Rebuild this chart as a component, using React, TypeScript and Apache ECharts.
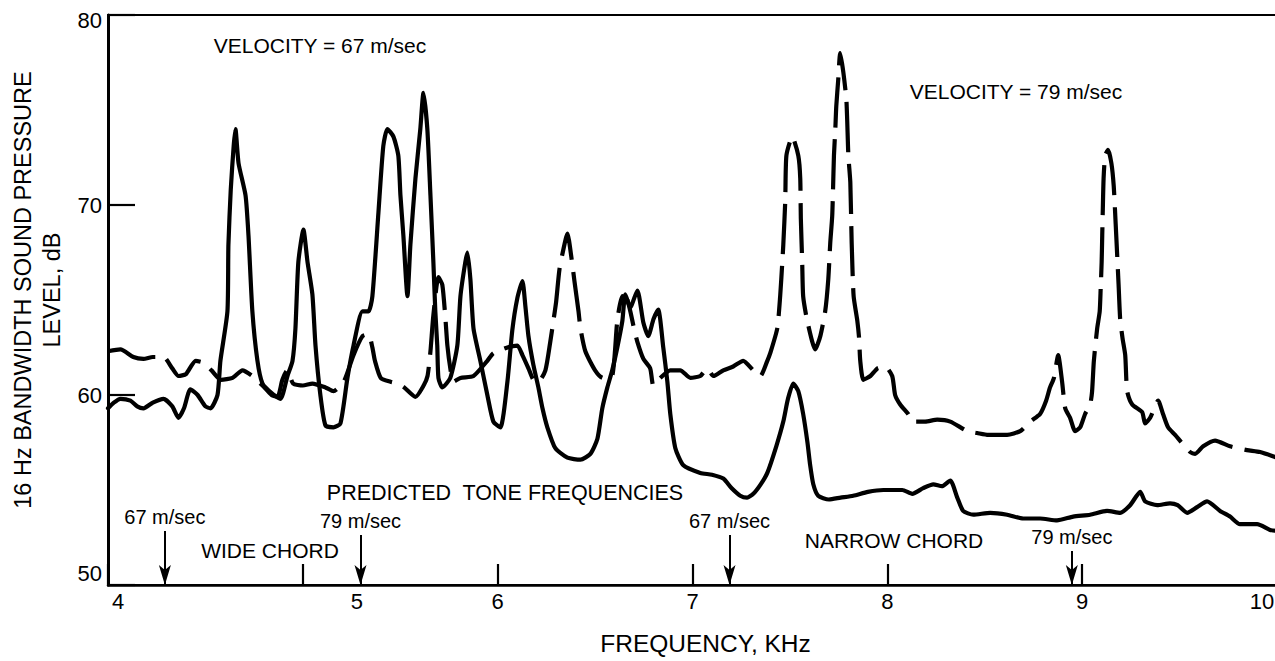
import React, { useEffect, useRef } from 'react';
import * as echarts from 'echarts';

// Frequency (kHz) vs 16 Hz bandwidth SPL (dB)
const solidCurve: [number, number][] = [
  [4.00, 59.3], [4.03, 59.6], [4.064, 59.8], [4.115, 59.7], [4.15, 59.4], [4.182, 59.3], [4.23, 59.6], [4.285, 59.8],
  [4.33, 59.4], [4.362, 58.8], [4.39, 59.3], [4.423, 60.3], [4.46, 60.0], [4.50, 59.4], [4.526, 59.3], [4.562, 60.0],
  [4.577, 61.8], [4.613, 64.4], [4.618, 67.9], [4.63, 70.8], [4.645, 73.1], [4.654, 74.0], [4.670, 72.2], [4.706, 70.5],
  [4.721, 68.4], [4.741, 64.4], [4.767, 61.8], [4.793, 60.6], [4.84, 60.1], [4.885, 59.8], [4.921, 61.0], [4.947, 61.8],
  [4.962, 63.5], [4.977, 67.0], [5.003, 68.7], [5.024, 67.0], [5.049, 65.3], [5.065, 62.6], [5.090, 60.0], [5.116, 58.4],
  [5.157, 58.3], [5.193, 58.5], [5.229, 60.9], [5.260, 62.6], [5.306, 64.4], [5.337, 64.4], [5.357, 65.2], [5.388, 69.6],
  [5.413, 73.1], [5.434, 74.0], [5.465, 73.6], [5.490, 72.6], [5.501, 70.5], [5.516, 68.4], [5.537, 65.2], [5.552, 67.9],
  [5.578, 71.4], [5.603, 74.0], [5.619, 75.9], [5.639, 74.0], [5.655, 70.5], [5.670, 67.0], [5.680, 64.4], [5.690, 62.6],
  [5.696, 60.9], [5.716, 60.4], [5.757, 60.9], [5.793, 62.6], [5.809, 65.2], [5.834, 67.0], [5.845, 67.5], [5.860, 66.1],
  [5.876, 63.5], [5.911, 61.8], [5.947, 60.0], [5.978, 58.6], [6.014, 58.3], [6.050, 60.7], [6.075, 63.4], [6.101, 65.1],
  [6.127, 66.0], [6.142, 64.7], [6.158, 63.1], [6.183, 61.6], [6.209, 60.4], [6.230, 59.3], [6.255, 58.3], [6.296, 57.2],
  [6.358, 56.7], [6.425, 56.6], [6.476, 56.9], [6.512, 57.7], [6.537, 59.3], [6.563, 60.4], [6.588, 61.3], [6.614, 62.5],
  [6.640, 63.9], [6.655, 65.3], [6.680, 64.6], [6.717, 65.5], [6.748, 63.8], [6.773, 63.1], [6.800, 64.0], [6.824, 64.5],
  [6.850, 62.5], [6.871, 60.7], [6.886, 59.0], [6.912, 57.2], [6.953, 56.3], [7.040, 55.9], [7.100, 55.8], [7.158, 55.6],
  [7.200, 55.1], [7.245, 54.7], [7.280, 54.6], [7.312, 54.8], [7.350, 55.3], [7.384, 55.9], [7.430, 57.3], [7.466, 58.6],
  [7.490, 59.8], [7.517, 60.6], [7.543, 60.2], [7.568, 59.0], [7.590, 57.5], [7.604, 56.3], [7.620, 55.3], [7.645, 54.7],
  [7.700, 54.5], [7.760, 54.6], [7.825, 54.7], [7.900, 54.9], [7.980, 55.0], [8.015, 55.0], [8.077, 55.0], [8.128, 54.8],
  [8.184, 55.1], [8.236, 55.3], [8.280, 55.2], [8.323, 55.5], [8.359, 54.6], [8.389, 53.9], [8.441, 53.7], [8.528, 53.8],
  [8.615, 53.7], [8.697, 53.5], [8.784, 53.5], [8.871, 53.4], [8.954, 53.6], [9.041, 53.7], [9.128, 53.9], [9.195, 53.8],
  [9.246, 54.2], [9.298, 54.9], [9.323, 54.4], [9.385, 54.2], [9.451, 54.3], [9.490, 54.2], [9.539, 53.8], [9.590, 54.1],
  [9.641, 54.4], [9.708, 53.9], [9.759, 53.6], [9.810, 53.2], [9.898, 53.2], [9.964, 52.9], [10.0, 52.85]
];

const dashedCurve: [number, number][] = [
  [4.00, 62.3], [4.064, 62.4], [4.13, 62.0], [4.182, 61.9], [4.23, 62.0], [4.285, 62.0], [4.33, 61.4], [4.362, 61.0],
  [4.40, 61.1], [4.45, 61.8], [4.49, 61.7], [4.531, 61.3], [4.58, 60.8], [4.639, 60.9], [4.69, 61.3], [4.741, 61.0],
  [4.793, 60.5], [4.84, 60.0], [4.87, 59.9], [4.895, 60.8], [4.92, 61.3], [4.95, 60.6], [5.00, 60.5], [5.049, 60.6],
  [5.116, 60.4], [5.157, 60.2], [5.21, 60.7], [5.260, 62.1], [5.306, 63.1], [5.337, 63.2], [5.357, 62.5], [5.37, 61.8],
  [5.40, 60.9], [5.45, 60.7], [5.49, 60.6], [5.52, 60.4], [5.578, 59.9], [5.62, 60.5], [5.64, 61.0], [5.655, 62.3],
  [5.67, 64.2], [5.696, 66.2], [5.716, 65.8], [5.732, 64.0], [5.742, 62.6], [5.757, 61.4], [5.773, 60.7], [5.809, 60.9],
  [5.876, 61.0], [5.947, 61.8], [5.978, 62.2], [6.05, 62.5], [6.101, 62.6], [6.127, 62.1], [6.158, 61.4], [6.183, 60.8],
  [6.209, 60.7], [6.245, 61.3], [6.27, 62.8], [6.286, 63.9], [6.30, 64.9], [6.317, 66.6], [6.338, 67.7], [6.358, 68.5],
  [6.379, 67.2], [6.394, 66.0], [6.415, 64.4], [6.425, 63.5], [6.45, 62.3], [6.50, 61.3], [6.54, 60.9], [6.588, 61.0],
  [6.614, 63.9], [6.640, 65.2], [6.666, 65.0], [6.70, 63.5], [6.717, 62.8], [6.748, 61.9], [6.783, 61.4], [6.799, 60.5],
  [6.835, 60.9], [6.886, 61.3], [6.937, 61.3], [6.989, 60.9], [7.040, 61.0], [7.076, 61.4], [7.107, 61.0], [7.158, 61.3],
  [7.209, 61.5], [7.260, 61.8], [7.312, 61.3], [7.348, 61.0], [7.384, 61.8], [7.399, 62.2], [7.435, 63.5], [7.450, 65.2],
  [7.461, 67.0], [7.466, 67.9], [7.476, 70.2], [7.482, 72.6], [7.512, 73.6], [7.543, 72.6], [7.553, 71.4], [7.556, 69.3],
  [7.563, 67.0], [7.568, 65.2], [7.589, 63.9], [7.630, 62.4], [7.656, 63.1], [7.681, 64.4], [7.697, 66.1], [7.707, 68.0],
  [7.717, 69.4], [7.721, 70.7], [7.726, 72.6], [7.733, 74.0], [7.738, 75.2], [7.748, 76.6], [7.758, 78.0], [7.774, 77.0],
  [7.790, 75.5], [7.800, 72.6], [7.810, 71.2], [7.817, 68.0], [7.827, 65.2], [7.846, 63.9], [7.855, 63.0], [7.861, 61.8],
  [7.877, 60.8], [7.913, 61.0], [7.949, 61.4], [7.989, 61.5], [8.025, 61.0], [8.040, 60.0], [8.066, 59.5], [8.107, 59.0],
  [8.130, 58.6], [8.194, 58.6], [8.256, 58.7], [8.323, 58.6], [8.410, 58.1], [8.461, 58.0], [8.518, 57.9], [8.615, 57.9],
  [8.682, 58.1], [8.733, 58.6], [8.784, 59.0], [8.815, 59.7], [8.835, 60.4], [8.855, 60.9], [8.877, 62.1], [8.897, 60.7],
  [8.913, 59.3], [8.938, 58.8], [8.964, 58.1], [8.990, 58.3], [9.015, 59.0], [9.041, 59.5], [9.051, 60.2], [9.060, 61.8],
  [9.077, 63.5], [9.090, 64.4], [9.095, 65.6], [9.100, 67.0], [9.103, 68.4], [9.106, 69.8], [9.110, 71.4], [9.118, 72.6],
  [9.133, 72.9], [9.150, 72.2], [9.162, 71.0], [9.172, 69.0], [9.180, 67.3], [9.187, 65.8], [9.195, 64.0], [9.207, 63.0],
  [9.221, 62.1], [9.231, 60.2], [9.257, 59.5], [9.308, 59.1], [9.323, 58.5], [9.349, 58.8], [9.390, 59.7], [9.415, 59.0],
  [9.441, 58.3], [9.477, 57.9], [9.510, 57.5], [9.554, 57.0], [9.580, 56.9], [9.621, 57.3], [9.682, 57.6], [9.759, 57.3],
  [9.846, 57.1], [9.913, 57.0], [10.0, 56.7]
];

const xTicks = [4, 5, 6, 7, 8, 9, 10];
const yTicks = [50, 60, 70, 80];

// Predicted tone frequencies (arrows)
const toneFreqs = [4.292, 5.296, 7.19, 8.947];
const toneLabels = ['67 m/sec', '79 m/sec', '67 m/sec', '79 m/sec'];
const toneArrowTops = [52.84, 52.63, 52.63, 51.79];

export default function App() {
  const ref = useRef<HTMLDivElement>(null);
  useEffect(() => {
    if (!ref.current) return;
    document.body.style.margin = '0';
    document.body.style.overflow = 'hidden';
    const chart = echarts.init(ref.current, null, { renderer: 'svg' });
    const font = "'Liberation Sans', Arial, Helvetica, sans-serif";
    const black = '#000';
    const txt = (text: string, x: number, y: number, size: number) => ({
      type: 'text',
      x,
      y,
      silent: true,
      style: {
        text,
        fill: black,
        fontSize: size,
        fontFamily: font,
        align: 'center',
        verticalAlign: 'middle',
        textAlign: 'center',
        textVerticalAlign: 'middle'
      }
    });
    const option = {
      animation: false,
      backgroundColor: '#fff',
      grid: {
        left: 108,
        right: 3,
        top: 15,
        bottom: 74,
        show: true,
        borderColor: black,
        borderWidth: 2
      },
      xAxis: {
        type: 'value',
        min: xTicks[0],
        max: xTicks[xTicks.length - 1],
        interval: xTicks[1] - xTicks[0],
        axisLine: { show: true, lineStyle: { color: black, width: 2.5 } },
        axisTick: { show: true, inside: true, length: 21, lineStyle: { color: black, width: 2.2 } },
        splitLine: { show: false },
        axisLabel: {
          show: true,
          margin: 5,
          showMinLabel: true,
          showMaxLabel: true,
          formatter: (v: number) =>
            v === 4 ? `{first|${v}}` : v === 5 ? `{shift|${v}}` : v === 10 ? `{last|${v}}` : `{n|${v}}`,
          rich: {
            n: { fontSize: 22, fontFamily: font, color: black },
            first: { fontSize: 22, fontFamily: font, color: black, padding: [0, 0, 0, 20] },
            shift: { fontSize: 22, fontFamily: font, color: black, padding: [0, 0, 0, 108] },
            last: { fontSize: 22, fontFamily: font, color: black, padding: [0, 30, 0, 0] }
          }
        },
        name: 'FREQUENCY, KHz',
        nameLocation: 'middle',
        nameGap: 46,
        nameTextStyle: { fontSize: 24.5, fontFamily: font, color: black, padding: [0, 0, 0, 26] }
      },
      yAxis: {
        type: 'value',
        min: yTicks[0],
        max: yTicks[yTicks.length - 1],
        interval: yTicks[1] - yTicks[0],
        axisLine: { show: true, lineStyle: { color: black, width: 3 } },
        axisTick: { show: true, inside: true, length: 27, lineStyle: { color: black, width: 2.2 } },
        splitLine: { show: false },
        axisLabel: {
          show: true,
          margin: 6,
          formatter: (v: number) => (v === 50 ? `{low|${v}}` : v === 80 ? `{high|${v}}` : `{n|${v}}`),
          rich: {
            n: { fontSize: 22, fontFamily: font, color: black },
            low: { fontSize: 22, fontFamily: font, color: black, padding: [0, 0, 24, 0] },
            high: { fontSize: 22, fontFamily: font, color: black, padding: [10, 0, 0, 0] }
          }
        },
        name: '16 Hz BANDWIDTH SOUND PRESSURE\nLEVEL, dB',
        nameLocation: 'middle',
        nameRotate: 90,
        nameGap: 40,
        nameTextStyle: { fontSize: 23.5, lineHeight: 29, fontFamily: font, color: black, align: 'center', padding: [0, 0, 0, 20] }
      },
      series: [
        {
          type: 'line',
          name: 'VELOCITY = 67 m/sec',
          data: solidCurve,
          symbol: 'none',
          showSymbol: false,
          smooth: 0.2,
          lineStyle: { color: black, width: 4.2, cap: 'round', join: 'round' },
          z: 3,
          markLine: {
            silent: true,
            symbol: ['none', 'arrow'],
            symbolSize: [9, 20],
            lineStyle: { color: black, width: 2, type: 'solid' },
            label: {
              show: true,
              position: 'start',
              formatter: '{b}',
              fontSize: 20,
              fontFamily: font,
              color: black,
              distance: 4
            },
            data: toneFreqs.map((f, i) => [
              { coord: [f, toneArrowTops[i]], name: toneLabels[i] },
              { coord: [f, yTicks[0]] }
            ])
          }
        },
        {
          type: 'line',
          name: 'VELOCITY = 79 m/sec',
          data: dashedCurve,
          symbol: 'none',
          showSymbol: false,
          smooth: 0.2,
          lineStyle: { color: black, width: 4.2, type: [50, 12], cap: 'butt', join: 'round' },
          z: 3
        }
      ],
      graphic: [
        txt('VELOCITY = 67 m/sec', 320, 45, 21),
        txt('VELOCITY = 79 m/sec', 1016, 91, 21),
        txt('PREDICTED  TONE FREQUENCIES', 505, 493, 21.5),
        txt('WIDE CHORD', 270, 550, 21),
        txt('NARROW CHORD', 894, 540, 21)
      ]
    };
    chart.setOption(option as any);
    return () => chart.dispose();
  }, []);
  return (
    <div
      ref={ref}
      style={{ position: 'fixed', left: 0, top: 0, width: 1280, height: 661, background: '#fff' }}
    />
  );
}
